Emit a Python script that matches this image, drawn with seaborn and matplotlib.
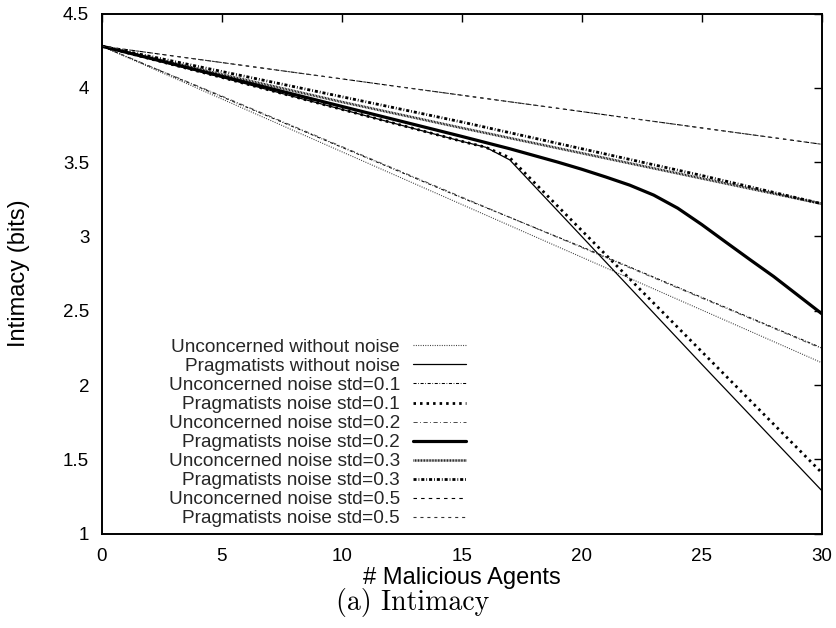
import matplotlib
matplotlib.use("Agg")
import matplotlib.pyplot as plt
import seaborn as sns
import numpy as np

# ---- data: intimacy (bits) versus number of malicious agents ----
x_straight = [0, 5, 10, 15, 20, 25, 30]
x_kinked = [0, 5, 10, 15, 16, 17, 20, 25, 30]
x_curved = [0, 5, 10, 15, 17, 18, 19, 20, 21, 22, 23, 24, 25, 26, 27, 28, 29, 30]

unconcerned_none = [4.28, 3.925, 3.57, 3.215, 2.86, 2.505, 2.15]
pragmatists_none = [4.28, 4.07, 3.855, 3.64, 3.60, 3.515, 3.00, 2.14, 1.29]
unconcerned_01 = [4.28, 3.94, 3.60, 3.26, 2.93, 2.59, 2.25]
pragmatists_01 = [4.28, 4.07, 3.855, 3.64, 3.60, 3.53, 3.04, 2.225, 1.41]
unconcerned_02 = [4.28, 3.945, 3.605, 3.265, 2.925, 2.585, 2.245]
pragmatists_02 = [4.28, 4.078, 3.875, 3.673, 3.59, 3.545, 3.50, 3.452, 3.40,
                  3.345, 3.278, 3.19, 3.08, 2.962, 2.845, 2.73, 2.605, 2.48]
unconcerned_03 = [4.28, 4.09, 3.905, 3.73, 3.56, 3.39, 3.22]
pragmatists_03 = [4.28, 4.11, 3.94, 3.77, 3.59, 3.41, 3.22]
unconcerned_05 = [4.28, 4.17, 4.06, 3.95, 3.84, 3.73, 3.62]
pragmatists_05 = [4.28, 4.17, 4.06, 3.95, 3.84, 3.73, 3.62]

series_labels = [
    "Unconcerned without noise", "Pragmatists without noise",
    "Unconcerned noise std=0.1", "Pragmatists noise std=0.1",
    "Unconcerned noise std=0.2", "Pragmatists noise std=0.2",
    "Unconcerned noise std=0.3", "Pragmatists noise std=0.3",
    "Unconcerned noise std=0.5", "Pragmatists noise std=0.5",
]

x_ticks = [0, 5, 10, 15, 20, 25, 30]
y_ticks = [1, 1.5, 2, 2.5, 3, 3.5, 4, 4.5]
y_tick_labels = ["1", "1.5", "2", "2.5", "3", "3.5", "4", "4.5"]

# ---- styling ----
sns.set_style("white")
plt.rcParams["font.family"] = ["Liberation Sans", "DejaVu Sans"]
plt.rcParams["lines.scale_dashes"] = False

# (x, y, colour, linewidth, dash pattern in points; None = solid)
styles = [
    (x_straight, unconcerned_none, "#3a3a3a", 0.8, (0.7, 1.0)),
    (x_kinked, pragmatists_none, "black", 0.9, None),
    (x_straight, unconcerned_01, "black", 0.75, (2.2, 1.2, 0.5, 1.2)),
    (x_kinked, pragmatists_01, "black", 2.0, (1.8, 2.9)),
    (x_straight, unconcerned_02, "#4a4a4a", 0.7, (3.0, 1.8, 0.6, 1.8)),
    (x_curved, pragmatists_02, "black", 2.3, None),
    (x_straight, unconcerned_03, "black", 1.8, (0.6, 0.5)),
    (x_straight, pragmatists_03, "black", 2.0, (2.2, 1.4, 0.6, 1.4)),
    (x_straight, unconcerned_05, "black", 0.8, (2.5, 3.0)),
    (x_straight, pragmatists_05, "#333333", 0.8, (2.2, 2.8)),
]

fig = plt.figure(figsize=(8.36, 6.28), dpi=100)
ax = fig.add_axes([0.1217, 0.1503, 0.8612, 0.8282])

handles = []
for (xs, ys, color, lw, dash), label in zip(styles, series_labels):
    ls = "-" if dash is None else (0, dash)
    sns.lineplot(x=xs, y=ys, ax=ax, color=color, linewidth=lw,
                 linestyle=ls, sort=False, estimator=None, label=label,
                 legend=False)
    line = ax.lines[-1]
    line.set_dash_capstyle("butt")
    line.set_solid_joinstyle("round")
    handles.append(line)

ax.set_xlim(0, 30)
ax.set_ylim(1, 4.5)
ax.set_xticks(x_ticks)
ax.set_xticklabels([str(t) for t in x_ticks])
ax.set_yticks(y_ticks)
ax.set_yticklabels(y_tick_labels)

for side in ["left", "right", "top", "bottom"]:
    ax.spines[side].set_visible(True)
    ax.spines[side].set_color("black")
    ax.spines[side].set_linewidth(1.4)

ax.tick_params(axis="both", which="major", direction="in", length=6,
               width=1.0, color="black", labelsize=13.5, labelcolor="black",
               top=True, right=True)
ax.tick_params(axis="x", pad=10)
ax.tick_params(axis="y", pad=9)

ax.set_xlabel("# Malicious Agents", fontsize=17, color="black")
ax.set_ylabel("Intimacy (bits)", fontsize=17, color="black")
ax.xaxis.set_label_coords(0.5, -0.064)
ax.yaxis.set_label_coords(-0.099, 0.5)

leg = ax.legend(handles, series_labels, loc="lower right",
                bbox_to_anchor=(0.5065, 0.012), frameon=False,
                markerfirst=False, fontsize=13.7, handlelength=2.8,
                handletextpad=0.7, labelspacing=0.09, borderpad=0,
                borderaxespad=0)

fig.text(0.494, 0.040, "(a) Intimacy", ha="center", va="center",
         fontsize=20, family="cmr10", color="black")

fig.savefig("out.png", dpi=100)
